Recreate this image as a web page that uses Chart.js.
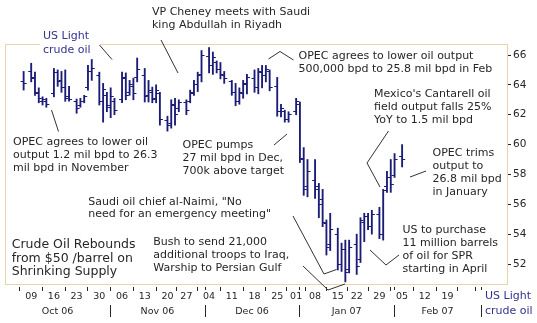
<!DOCTYPE html>
<html>
<head>
<meta charset="utf-8">
<script src="https://cdn.jsdelivr.net/npm/chart.js@4.4.0/dist/chart.umd.min.js"></script>
<style>
  body { margin: 0; background: #fff; }
  canvas { display: block; }
</style>
</head>
<body>
<canvas id="chart" width="537" height="323"></canvas>
<script>
"use strict";

// daily sessions (mm/dd), Oct 2006 - Feb 2007
var days = [
  '10/06','10/09','10/10','10/11','10/12','10/13','10/16','10/17','10/18','10/19','10/20',
  '10/23','10/24','10/25','10/26','10/27','10/30','10/31',
  '11/01','11/02','11/03','11/06','11/07','11/08','11/09','11/10','11/13','11/14','11/15','11/16','11/17',
  '11/20','11/21','11/22','11/24','11/27','11/28','11/29','11/30',
  '12/01','12/04','12/05','12/06','12/07','12/08','12/11','12/12','12/13','12/14','12/15',
  '12/18','12/19','12/20','12/21','12/22','12/26','12/27','12/28','12/29',
  '01/02','01/03','01/04','01/05','01/08','01/09','01/10','01/11','01/12','01/16','01/17','01/18','01/19',
  '01/22','01/23','01/24','01/25','01/26','01/29','01/30','01/31',
  '02/01','02/02','02/05'
];
var highs = [
  64.9, 65.45, 64.85, 63.8, 63.2, 63.1, 65.1, 65.0, 64.9, 65.0, 63.9, 63.05, 63.1, 63.3, 65.3, 65.7, 64.85, 64.1,
  63.5, 63.8, 63.1, 64.85, 64.8, 64.3, 64.45, 65.8, 65.1, 64.3, 63.85, 64.0, 63.5, 61.9, 63.0, 63.1, 63.0, 63.0, 63.65, 64.3, 64.85,
  66.3, 66.5, 66.2, 65.6, 65.5, 64.9, 64.3, 64.1, 63.8, 64.3, 64.7, 65.0, 65.1, 65.3, 65.3, 65.0, 64.5, 62.7, 62.3, 62.2,
  63.1, 62.85, 59.8, 59.0, 59.0, 57.4, 57.0, 54.95, 55.4, 54.4, 53.4, 53.6, 53.6, 54.0, 55.1, 55.4, 55.4, 55.6, 55.8, 57.0, 58.2,
  59.0, 59.4, 60.0
];
var lows = [
  63.65, 64.2, 63.3, 62.8, 62.65, 62.5, 63.2, 63.9, 63.5, 62.9, 62.9, 62.1, 62.5, 62.8, 63.65, 64.3, 62.65, 61.5,
  62.2, 61.8, 62.0, 62.8, 63.0, 63.3, 63.0, 64.2, 62.85, 62.85, 62.8, 62.8, 61.3, 60.9, 61.1, 61.3, 62.2, 62.0, 62.8, 63.3, 63.55,
  64.2, 64.8, 64.7, 64.8, 64.4, 64.1, 63.3, 62.6, 62.7, 63.1, 63.4, 63.5, 63.4, 63.8, 64.2, 63.6, 61.9, 61.85, 61.5, 61.5,
  62.0, 58.8, 56.6, 56.5, 56.4, 55.1, 54.5, 52.6, 52.9, 51.6, 51.5, 50.8, 51.4, 51.3, 52.1, 53.5, 54.3, 54.0, 53.7, 53.6, 56.8,
  56.8, 57.8, 58.5
];
var opens = [
  64.2, 64.9, 64.5, 63.4, 62.9, 62.9, 63.4, 64.8, 64.3, 63.8, 63.2, 62.9, 62.6, 62.9, 63.8, 64.9, 64.6, 62.9,
  63.3, 62.5, 62.9, 63.0, 64.4, 63.5, 63.9, 64.5, 64.6, 63.3, 63.5, 63.1, 63.4, 61.6, 61.4, 62.6, 62.4, 62.8, 62.9, 63.5, 64.0,
  64.7, 65.9, 65.3, 65.5, 65.0, 64.6, 64.2, 63.5, 62.9, 63.4, 64.0, 64.4, 63.8, 64.8, 64.6, 64.9, 63.9, 62.2, 62.2, 61.7,
  62.2, 62.7, 59.0, 57.2, 57.6, 57.2, 56.3, 54.7, 53.3, 54.0, 52.0, 53.0, 51.6, 53.3, 52.3, 54.8, 55.2, 54.5, 55.3, 54.0, 57.2,
  57.8, 57.9, 59.2
];
var closes = [
  64.1, 64.4, 63.5, 63.1, 63.0, 62.7, 64.8, 64.2, 63.8, 63.1, 63.0, 62.4, 62.9, 63.2, 64.9, 65.1, 62.9, 63.7,
  62.6, 63.2, 62.3, 64.5, 63.3, 64.0, 63.4, 65.0, 63.2, 63.6, 63.0, 63.6, 61.7, 61.3, 62.7, 62.0, 62.8, 62.3, 63.4, 64.0, 64.6,
  66.0, 65.3, 65.8, 65.0, 64.7, 64.4, 63.5, 62.9, 63.5, 64.1, 64.5, 63.8, 64.9, 64.6, 65.0, 63.8, 62.2, 62.4, 61.7, 62.0,
  62.9, 59.1, 57.0, 58.2, 57.0, 56.0, 54.8, 53.1, 54.3, 52.0, 53.0, 51.4, 53.1, 51.8, 54.9, 55.2, 54.5, 55.3, 54.0, 56.9, 57.8,
  57.3, 59.0, 59.0
];

var weekStarts = ['2006-10-09','2006-10-16','2006-10-23','2006-10-30','2006-11-06','2006-11-13','2006-11-20',
  '2006-11-27','2006-12-04','2006-12-11','2006-12-18','2006-12-25','2007-01-01','2007-01-08','2007-01-15',
  '2007-01-22','2007-01-29','2007-02-05','2007-02-12','2007-02-19','2007-02-26'];
var weekLabels = ['09','16','23','30','06','13','20','27','04','11','18','25','01','08','15','22','29','05','12','19',''];
var months = ['Oct 06','Nov 06','Dec 06','Jan 07','Feb 07'];
var monthStarts = ['2006-11-01','2006-12-01','2007-01-01','2007-02-01','2007-03-01'];
var holidays = ['2006-11-23','2006-12-25','2007-01-01','2007-01-15','2007-02-19'];
var yTicks = [52, 54, 56, 58, 60, 62, 64, 66];

var barColor = '#1b1b78';
var navy = '#33338f';
var ink = '#262626';
var frameColor = '#ead2ad';

// session slots: one per trading day, one empty slot for every weekend
var slots = {};
(function () {
  var d = new Date(Date.UTC(2006, 9, 2)), end = Date.UTC(2007, 2, 20);
  var slot = -7, lastDow = 9;
  for (; d.getTime() < end; d = new Date(d.getTime() + 864e5)) {
    var dow = d.getUTCDay(), key = d.toISOString().slice(0, 10);
    if (dow === 0 || dow === 6 || holidays.indexOf(key) >= 0) continue;
    slot += dow < lastDow ? 2 : 1;
    lastDow = dow;
    slots[key] = slot;
  }
})();
function slotOf(key) {
  var d = new Date(key + 'T00:00:00Z');
  for (var n = 0; n < 10 && slots[d.toISOString().slice(0, 10)] === undefined; n++) {
    d = new Date(d.getTime() + 864e5);
  }
  return slots[d.toISOString().slice(0, 10)];
}
function dayKey(s) {
  var p = s.split('/');
  return (+p[0] >= 10 ? '2006-' : '2007-') + p[0] + '-' + p[1];
}

var xs = days.map(function (s) { return slotOf(dayKey(s)); });

function tickImage(side) {
  var c = document.createElement('canvas');
  c.width = 8; c.height = 1;
  var g = c.getContext('2d');
  g.fillStyle = barColor;
  g.fillRect(side < 0 ? 1 : 4, 0, 3, 1);
  return c;
}

var notes = [
  { x: 152, y: 12, lines: ['VP Cheney meets with Saudi', 'king Abdullah in Riyadh'] },
  { x: 43, y: 36, lines: ['US Light', 'crude oil'], color: navy, lh: 14, mask: [40, 29, 60, 28] },
  { x: 13, y: 142, lines: ['OPEC agrees to lower oil', 'output 1.2 mil bpd to 26.3', 'mil bpd in November'] },
  { x: 182.5, y: 145, lines: ['OPEC pumps', '27 mil bpd in Dec,', '700k above target'] },
  { x: 298.5, y: 56.5, lines: ['OPEC agrees to lower oil output', '500,000 bpd to 25.8 mil bpd in Feb'] },
  { x: 374, y: 94.5, lines: ["Mexico's Cantarell oil", 'field output falls 25%', 'YoY to 1.5 mil bpd'] },
  { x: 432.5, y: 153.5, lines: ['OPEC trims', 'output to', '26.8 mil bpd', 'in January'] },
  { x: 88.3, y: 202, lines: ['Saudi oil chief al-Naimi, "No', 'need for an emergency meeting"'], lh: 12.5 },
  { x: 153.3, y: 242, lines: ['Bush to send 21,000', 'additional troops to Iraq,', 'Warship to Persian Gulf'] },
  { x: 402.5, y: 230, lines: ['US to purchase', '11 million barrels', 'of oil for SPR', 'starting in April'] },
  { x: 11.7, y: 245, lines: ['Crude Oil Rebounds', 'from $50 /barrel on', 'Shrinking Supply'], size: 12.5, lh: 13.5 },
  { x: 485, y: 296.5, lines: ['US Light', 'crude oil'], color: navy, lh: 14.5 }
];
var leaders = [
  [[161, 40], [178, 73]],
  [[99.5, 45], [112, 59.5]],
  [[51.5, 110], [58.5, 131.5]],
  [[274, 145], [287, 134]],
  [[268.5, 59], [280, 51.5], [293.5, 60]],
  [[388.5, 131], [367, 163], [380, 187]],
  [[410, 177], [426, 171]],
  [[293, 216], [324, 274], [336.5, 269.5]],
  [[303, 266], [328, 290], [345, 284]],
  [[370, 250], [386, 265], [399, 255]]
];

var decor = {
  id: 'decor',
  beforeDraw: function (chart) {
    var ctx = chart.ctx, a = chart.chartArea;
    ctx.save();
    ctx.fillStyle = '#fff';
    ctx.fillRect(0, 0, chart.width, chart.height);
    ctx.strokeStyle = frameColor;
    ctx.lineWidth = 1;
    ctx.strokeRect(Math.round(a.left) + 0.5, Math.round(a.top) + 0.5,
      Math.round(a.right - a.left) - 1, Math.round(a.bottom - a.top) - 3);
    ctx.restore();
  },
  afterDraw: function (chart) {
    var ctx = chart.ctx, a = chart.chartArea, xs = chart.scales.x;
    ctx.save();

    // month separators and labels
    var seps = monthStarts.map(function (m) { return xs.getPixelForValue(slotOf(m) + 0.85); });
    ctx.strokeStyle = ink;
    ctx.lineWidth = 1;
    ctx.beginPath();
    seps.forEach(function (px) {
      if (px > a.right) return;
      var x = Math.round(px) + 0.5;
      ctx.moveTo(x, 305); ctx.lineTo(x, 317);
      ctx.moveTo(x, 287); ctx.lineTo(x, 290);
    });
    ctx.stroke();
    ctx.fillStyle = ink;
    ctx.font = '9.5px "DejaVu Sans"';
    ctx.textAlign = 'center';
    ctx.textBaseline = 'middle';
    months.forEach(function (m, i) {
      var l = i === 0 ? a.left : seps[i - 1];
      ctx.fillText(m, (l + seps[i]) / 2, 312);
    });

    // annotations
    ctx.textAlign = 'left';
    notes.forEach(function (n) {
      if (n.mask) {
        ctx.fillStyle = '#fff';
        ctx.fillRect(n.mask[0], n.mask[1], n.mask[2], n.mask[3]);
      }
      ctx.fillStyle = n.color || ink;
      ctx.font = (n.size || 11) + 'px "DejaVu Sans"';
      n.lines.forEach(function (t, i) {
        ctx.fillText(t, n.x, n.y + i * (n.lh || 13));
      });
    });
    ctx.strokeStyle = '#333';
    ctx.lineWidth = 1;
    leaders.forEach(function (p) {
      ctx.beginPath();
      ctx.moveTo(p[0][0], p[0][1]);
      for (var i = 1; i < p.length; i++) ctx.lineTo(p[i][0], p[i][1]);
      ctx.stroke();
    });
    ctx.restore();
  }
};

new Chart(document.getElementById('chart').getContext('2d'), {
  type: 'bar',
  data: {
    datasets: [{
      type: 'bar',
      data: xs.map(function (x, i) { return { x: x, y: [lows[i], highs[i]] }; }),
      backgroundColor: barColor,
      barThickness: 1.2,
      grouped: false,
      order: 2
    }, {
      type: 'scatter',
      data: xs.map(function (x, i) { return { x: x, y: opens[i] }; }),
      pointStyle: tickImage(-1),
      order: 1
    }, {
      type: 'scatter',
      data: xs.map(function (x, i) { return { x: x, y: closes[i] }; }),
      pointStyle: tickImage(1),
      order: 1
    }]
  },
  options: {
    responsive: false,
    animation: false,
    events: [],
    layout: { padding: { left: 3, top: 44, right: 0, bottom: 0 } },
    plugins: { legend: { display: false }, tooltip: { enabled: false } },
    scales: {
      x: {
        type: 'linear',
        min: -2.757,
        max: 123.81,
        border: { display: false },
        grid: { drawOnChartArea: false, drawTicks: true, tickLength: 4, color: ink },
        afterBuildTicks: function (scale) {
          scale.ticks = weekStarts.map(function (w) { return { value: slotOf(w) }; });
        },
        afterFit: function (scale) { scale.height = 36; },
        ticks: {
          autoSkip: false,
          maxRotation: 0,
          padding: 0,
          color: ink,
          font: { family: 'DejaVu Sans', size: 9.5 },
          callback: function (v, i) { return weekLabels[i]; }
        }
      },
      y: {
        position: 'right',
        min: 50.46,
        max: 66.737,
        border: { display: false },
        grid: { drawOnChartArea: false, drawTicks: true, tickLength: 3, color: ink },
        afterBuildTicks: function (scale) {
          scale.ticks = yTicks.map(function (v) { return { value: v }; });
        },
        afterFit: function (scale) { scale.width = 29; },
        ticks: {
          padding: 2,
          color: ink,
          font: { family: 'DejaVu Sans', size: 10.5 }
        }
      }
    }
  },
  plugins: [decor]
});
</script>
</body>
</html>
